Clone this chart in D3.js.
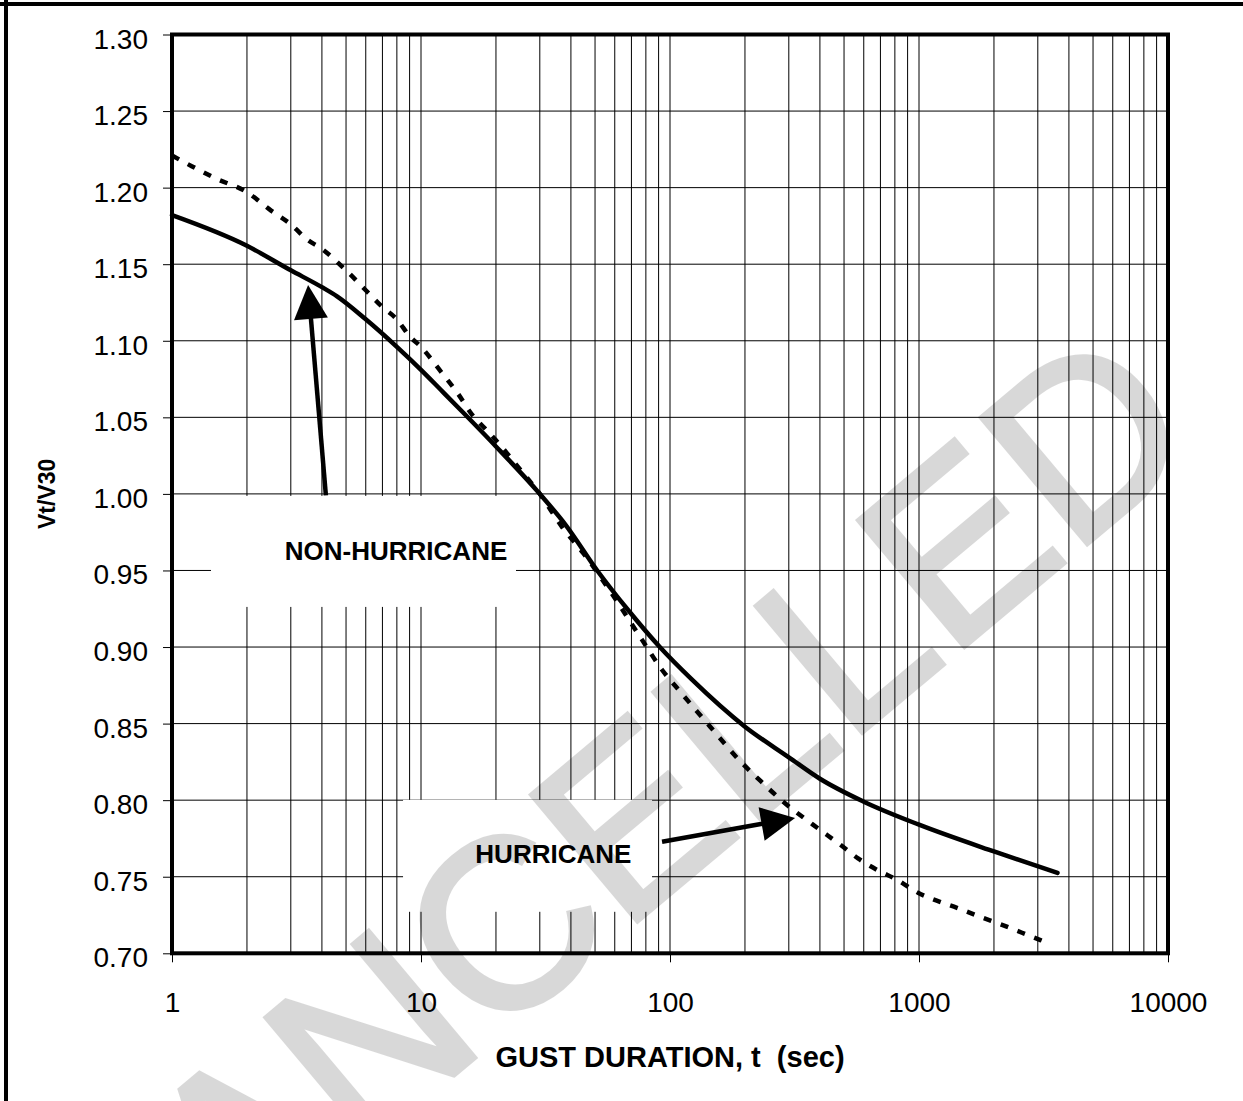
<!DOCTYPE html>
<html><head><meta charset="utf-8">
<script src="https://cdn.jsdelivr.net/npm/d3@7"></script>
<style>body{margin:0;background:#fff}svg{display:block}</style>
</head><body><svg id="c" width="1243" height="1101"></svg>
<script>
// ---- data ----
const xTickValues = [1, 10, 100, 1000, 10000];
const xTickLabels = ["1", "10", "100", "1000", "10000"];
const yTickValues = [0.70, 0.75, 0.80, 0.85, 0.90, 0.95, 1.00, 1.05, 1.10, 1.15, 1.20, 1.25, 1.30];
const yTickLabels = ["0.70", "0.75", "0.80", "0.85", "0.90", "0.95", "1.00", "1.05", "1.10", "1.15", "1.20", "1.25", "1.30"];

const nonHurricaneT = [1, 2, 3, 4, 4.6, 6, 8, 10, 12, 15, 20, 30, 38, 51, 68, 91, 122, 200, 300, 400, 600, 1000, 2000, 3600];
const nonHurricaneV = [1.182, 1.162, 1.146, 1.135, 1.129, 1.114, 1.096, 1.081, 1.068, 1.052, 1.031, 1.000, 0.980, 0.950, 0.924, 0.900, 0.879, 0.848, 0.828, 0.814, 0.799, 0.784, 0.7665, 0.7525];

const hurricaneT = [1, 1.2, 1.5, 2, 2.5, 3, 3.5, 4, 5, 6, 7, 8, 9, 10, 12, 14, 16, 18, 20, 25, 30, 37, 45, 60, 77, 93, 111, 145, 190, 240, 280, 375, 482, 569, 678, 816, 991, 1214, 1421, 1759, 2155, 2592, 3148];
const hurricaneV = [1.221, 1.214, 1.206, 1.197, 1.185, 1.176, 1.166, 1.160, 1.146, 1.133, 1.122, 1.114, 1.103, 1.096, 1.080, 1.066, 1.052, 1.043, 1.035, 1.016, 1.000, 0.978, 0.961, 0.932, 0.905, 0.885, 0.870, 0.848, 0.826, 0.810, 0.800, 0.784, 0.771, 0.762, 0.7545, 0.748, 0.7395, 0.7336, 0.7297, 0.7238, 0.7186, 0.7134, 0.708];

const annotationLabels = ["NON-HURRICANE", "HURRICANE"];
// label anchor (t, v), label box corners (t0, v0, t1, v1), arrow tail (t, v), arrow tip (t, v)
const labelAnchorT = [7.94, 34.0];
const labelAnchorV = [0.957, 0.759];
const labelBoxT0 = [1.434, 8.47], labelBoxT1 = [24.07, 84.7];
const labelBoxV0 = [0.9987, 0.8002], labelBoxV1 = [0.9262, 0.7271];
const arrowTailT = [4.15, 92.9], arrowTailV = [0.999, 0.7728];
const arrowTipT = [3.52, 318], arrowTipV = [1.1364, 0.7884];

const xAxisTitle = "GUST DURATION, t  (sec)";
const yAxisTitle = "Vt/V30";
const watermarkText = "CANCELLED";

// ---- layout ----
const svg = d3.select("#c");
const L = 172, R = 1168, T = 34.5, B = 953.3;
const FONT = "Liberation Sans, Arial, sans-serif";
const x = d3.scaleLog().domain([1, 10000]).range([L, R]);
const y = d3.scaleLinear().domain([0.70, 1.30]).range([B, T]);

// outer frame (left + top edges visible)
svg.append("line").attr("x1", 6).attr("x2", 6).attr("y1", 0).attr("y2", 1101).attr("stroke", "#000").attr("stroke-width", 4);
svg.append("line").attr("x1", 0).attr("x2", 1243).attr("y1", 4).attr("y2", 4).attr("stroke", "#000").attr("stroke-width", 4);

// grid
const minorT = [];
for (let d = 1; d < 10000; d *= 10) for (let k = 1; k <= 9; k++) { const v = d * k; if (v > 1 && v < 10000) minorT.push(v); }
const g = svg.append("g");
g.selectAll("line.v").data(minorT).join("line")
  .attr("x1", d => x(d)).attr("x2", d => x(d)).attr("y1", T).attr("y2", B)
  .attr("stroke", "#000").attr("stroke-width", 1);
g.selectAll("line.h").data(yTickValues.slice(1, -1)).join("line")
  .attr("x1", L).attr("x2", R).attr("y1", d => y(d)).attr("y2", d => y(d))
  .attr("stroke", "#000").attr("stroke-width", 1);

// white label boxes
svg.selectAll("rect.lb").data(annotationLabels).join("rect")
  .attr("x", (d, i) => x(labelBoxT0[i])).attr("y", (d, i) => y(labelBoxV0[i]))
  .attr("width", (d, i) => x(labelBoxT1[i]) - x(labelBoxT0[i]))
  .attr("height", (d, i) => y(labelBoxV1[i]) - y(labelBoxV0[i]))
  .attr("fill", "#fff");

// axes
const yAxis = d3.axisLeft(y).tickValues(yTickValues).tickFormat((d, i) => yTickLabels[i]).tickSize(9).tickPadding(15);
const ya = svg.append("g").attr("transform", `translate(${L},0)`).call(yAxis);
ya.select(".domain").remove();
ya.selectAll("text").attr("font-family", FONT).attr("font-size", 28).attr("fill", "#000").attr("dy", 13.5);
ya.selectAll("line").attr("stroke", "#000");

const xAxis = d3.axisBottom(x).tickValues(xTickValues).tickFormat((d, i) => xTickLabels[i]).tickSize(9).tickPadding(0);
const xa = svg.append("g").attr("transform", `translate(0,${B})`).call(xAxis);
xa.select(".domain").remove();
xa.selectAll("text").attr("font-family", FONT).attr("font-size", 28).attr("fill", "#000")
  .attr("dy", null).attr("y", 58.7);
xa.selectAll("line").attr("stroke", "#000");

// plot frame
svg.append("rect").attr("x", L).attr("y", T).attr("width", R - L).attr("height", B - T)
  .attr("fill", "none").attr("stroke", "#000").attr("stroke-width", 4);

// curves
const line = d3.line().x(d => x(d[0])).y(d => y(d[1])).curve(d3.curveMonotoneX);
svg.append("path").datum(hurricaneT.map((t, i) => [t, hurricaneV[i]]))
  .attr("d", line).attr("fill", "none").attr("stroke", "#000").attr("stroke-width", 4.5)
  .attr("stroke-dasharray", "8,10");
svg.append("path").datum(nonHurricaneT.map((t, i) => [t, nonHurricaneV[i]]))
  .attr("d", line).attr("fill", "none").attr("stroke", "#000").attr("stroke-width", 4.5)
  .attr("stroke-linecap", "round");

// arrows
annotationLabels.forEach((lab, i) => {
  const x0 = x(arrowTailT[i]), y0 = y(arrowTailV[i]);
  const x1 = x(arrowTipT[i]), y1 = y(arrowTipV[i]);
  const dx = x1 - x0, dy = y1 - y0, len = Math.hypot(dx, dy);
  const ux = dx / len, uy = dy / len, px = -uy, py = ux;
  const hl = 34, hw = 17;
  const bx = x1 - ux * hl, by = y1 - uy * hl;
  svg.append("line").attr("x1", x0).attr("y1", y0).attr("x2", bx + ux * 2).attr("y2", by + uy * 2)
    .attr("stroke", "#000").attr("stroke-width", 4.5);
  svg.append("polygon").attr("points", [[x1, y1], [bx + px * hw, by + py * hw], [bx - px * hw, by - py * hw]].map(p => p.join(",")).join(" "))
    .attr("fill", "#000");
});

// annotation labels
svg.selectAll("text.ann").data(annotationLabels).join("text")
  .attr("x", (d, i) => x(labelAnchorT[i])).attr("y", (d, i) => y(labelAnchorV[i]))
  .attr("text-anchor", "middle").attr("font-family", FONT)
  .attr("font-weight", "bold").attr("font-size", 26).attr("fill", "#000").text(d => d);

// axis titles
svg.append("text").attr("x", (L + R) / 2).attr("y", 1067).attr("text-anchor", "middle")
  .attr("font-family", FONT).attr("font-weight", "bold").attr("font-size", 29)
  .style("white-space", "pre").text(xAxisTitle);
svg.append("text").attr("transform", `translate(55,${(T + B) / 2}) rotate(-90)`).attr("text-anchor", "middle")
  .attr("font-family", FONT).attr("font-weight", "bold").attr("font-size", 23)
  .text(yAxisTitle);

// watermark
svg.append("g").attr("opacity", 0.15)
  .append("text").attr("transform", "translate(1205,445) rotate(-40)")
  .attr("text-anchor", "end").attr("font-family", FONT)
  .attr("font-size", 240).attr("fill", "#000").attr("stroke", "#000").attr("stroke-width", 5)
  .text(watermarkText);
</script></body></html>
